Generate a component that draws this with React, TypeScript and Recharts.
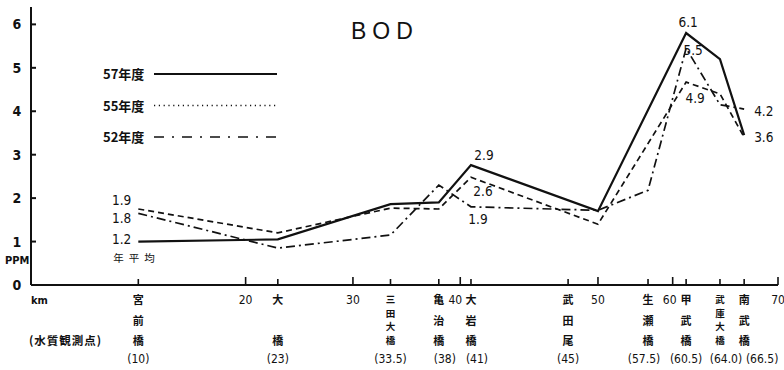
import React from "react";
import { Legend, LabelList, Line, LineChart, XAxis, YAxis } from "recharts";

// measuring points (km from source) and BOD readings, ppm
const KM = [10, 23, 33.5, 38, 41, 50, 57.5, 60.5, 64, 66.5];
const BOD_57 = [1.0, 1.05, 1.86, 1.9, 2.76, 1.7, null, 5.8, 5.2, 3.45];
const BOD_55 = [1.75, 1.2, 1.77, 1.75, 2.48, 1.4, null, 4.67, 4.4, 3.4];
const BOD_52 = [1.65, 0.85, 1.15, 2.3, 1.8, 1.72, 2.18, 5.45, 4.15, 4.05];

// printed annotations next to the lines
const NOTE_57 = ["1.2", null, null, null, "2.9", null, null, "6.1", null, "3.6"];
const NOTE_55 = ["1.9", null, null, null, "2.6", null, null, "4.9", null, null];
const NOTE_52 = ["1.8", null, null, null, "1.9", null, null, "5.5", null, "4.2"];
const AVG_NOTE = "年平均";

const STATION_KM = [10, 23, 33.5, 38, 41, 45, 57.5, 60.5, 64, 66.5];
const STATION_NAMES = ["宮前橋", "大橋", "三田大橋", "亀治橋", "大岩橋", "武田尾", "生瀬橋", "甲武橋", "武庫大橋", "南武橋"];
const STATION_KM_TEXT = ["(10)", "(23)", "(33.5)", "(38)", "(41)", "(45)", "(57.5)", "(60.5)", "(64.0)", "(66.5)"];
const KM_TICKS = [20, 30, 40, 50, 60, 70];
const Y_TICKS = [0, 1, 2, 3, 4, 5, 6];

const SERIES = [
  { key: "y57", note: "n57", name: "57年度", values: BOD_57, notes: NOTE_57 },
  { key: "y55", note: "n55", name: "55年度", values: BOD_55, notes: NOTE_55 },
  { key: "y52", note: "n52", name: "52年度", values: BOD_52, notes: NOTE_52 }
];

const chartData = KM.map((km, i) => {
  const row: Record<string, number | string | null> = { km };
  SERIES.forEach((s) => {
    row[s.key] = s.values[i];
    row[s.note] = s.notes[i];
  });
  return row;
});

const X_TICKS = [...STATION_KM, ...KM_TICKS].sort((a, b) => a - b);

// the original drawing's km ruler is not uniform between 41 and 60.5 km
const RULER_KM = [0, 41, 45, 50, 57.5, 60, 60.5, 70];
const RULER_AT = [0, 0.589, 0.719, 0.759, 0.826, 0.859, 0.877, 1];

function rulerScale(domain: number[] = [0, 70], range: number[] = [0, 1]): any {
  const scale: any = (v: number) => {
    const last = RULER_KM.length - 1;
    const km = Math.max(RULER_KM[0], Math.min(v, RULER_KM[last]));
    let i = 0;
    while (i < last - 1 && km > RULER_KM[i + 1]) i++;
    const t = (km - RULER_KM[i]) / (RULER_KM[i + 1] - RULER_KM[i]);
    const f = RULER_AT[i] + t * (RULER_AT[i + 1] - RULER_AT[i]);
    return range[0] + f * (range[1] - range[0]);
  };
  scale.domain = (d?: number[]) => {
    if (d === undefined) return domain.slice();
    domain = d.slice();
    return scale;
  };
  scale.range = (r?: number[]) => {
    if (r === undefined) return range.slice();
    range = r.slice();
    return scale;
  };
  scale.copy = () => rulerScale(domain.slice(), range.slice());
  scale.ticks = () => X_TICKS.slice();
  scale.invert = (px: number) => {
    const f = (px - range[0]) / (range[1] - range[0]);
    let i = 0;
    while (i < RULER_AT.length - 2 && f > RULER_AT[i + 1]) i++;
    const t = (f - RULER_AT[i]) / (RULER_AT[i + 1] - RULER_AT[i]);
    return RULER_KM[i] + t * (RULER_KM[i + 1] - RULER_KM[i]);
  };
  return scale;
}

const NUM_FONT = "'Liberation Sans Narrow', 'DejaVu Sans Condensed', 'Liberation Sans', sans-serif";
const CJK_FONT = "'Noto Sans CJK JP', 'Noto Sans CJK SC', sans-serif";
const INK = "#111";

const LINE_STYLE: Record<string, { dash?: string; width: number }> = {
  y57: { width: 2.2 },
  y55: { dash: "6 4", width: 1.7 },
  y52: { dash: "9 4 2 4", width: 1.7 }
};

const LEGEND_STYLE: Record<string, { dash?: string; width: number }> = {
  y57: { width: 2 },
  y55: { dash: "1.2 3.6", width: 1.3 },
  y52: { dash: "10 8 2 8", width: 1.6 }
};

// [dx, dy, anchor] from the point
const NOTE_PLACE: Record<string, Record<string, [number, number, string]>> = {
  y57: { "1.2": [-7, 2, "end"], "2.9": [13, -5, "middle"], "6.1": [2, -6, "middle"], "3.6": [10, 7, "start"] },
  y55: { "1.9": [-7, -4, "end"], "2.6": [12, 19, "middle"], "4.9": [9, 21, "middle"] },
  y52: { "1.8": [-7, 10, "end"], "1.9": [7, 17, "middle"], "5.5": [7, 7, "middle"], "4.2": [10, 7, "start"] }
};

// crowded bottom labels are nudged sideways, as in the print
const LABEL_SHIFT: Record<string, number> = { "38": 6, "41": 6, "57.5": -4, "64": 6, "66.5": 18 };
const KM_SHIFT: Record<string, number> = { "40": -5, "60": -3 };

function noteLabel(seriesKey: string) {
  return (props: any) => {
    const value = props.value;
    if (value == null || value === "") return null;
    const vb = props.viewBox || {};
    const x = vb.x ?? props.x;
    const y = vb.y ?? props.y;
    if (x == null || y == null) return null;
    const place = NOTE_PLACE[seriesKey][value] || [0, -8, "middle"];
    return (
      <g>
        <text
          x={x + place[0]}
          y={y + place[1]}
          textAnchor={place[2] as any}
          fill={INK}
          fontSize={13.5}
          fontFamily={NUM_FONT}
        >
          {value}
        </text>
        {seriesKey === "y57" && value === NOTE_57[0] && (
          <text x={x - 25} y={y + 20} fill={INK} fontSize={10.5} fontFamily={CJK_FONT} letterSpacing={5}>
            {AVG_NOTE}
          </text>
        )}
      </g>
    );
  };
}

function XTick(props: any) {
  const { x, y, payload } = props;
  const km = payload.value;
  const s = STATION_KM.indexOf(km);

  if (s < 0) {
    return (
      <g>
        <line x1={x} x2={x} y1={y} y2={y - 8} stroke={INK} strokeWidth={1.6} />
        <text
          x={x + (KM_SHIFT[String(km)] ?? 0)}
          y={y + 19}
          textAnchor="middle"
          fill={INK}
          fontSize={12}
          fontFamily={NUM_FONT}
        >
          {km}
        </text>
      </g>
    );
  }

  const chars = STATION_NAMES[s].split("");
  const long = chars.length >= 4;
  const step = long ? 13.5 : 20.5;
  const rows = chars.length === 2 ? [0, 2] : chars.map((_, i) => i);
  const shift = LABEL_SHIFT[String(km)] ?? 0;

  return (
    <g>
      <line x1={x} x2={x} y1={y} y2={y - 6} stroke={INK} strokeWidth={1.6} />
      {chars.map((c, i) => (
        <text
          key={i}
          x={x}
          y={y + (long ? 18 : 19) + rows[i] * step}
          textAnchor="middle"
          fill={INK}
          fontSize={long ? 9.5 : 11}
          fontWeight={700}
          fontFamily={CJK_FONT}
        >
          {c}
        </text>
      ))}
      <text x={x + shift} y={y + 78} textAnchor="middle" fill={INK} fontSize={12} fontFamily={NUM_FONT}>
        {STATION_KM_TEXT[s]}
      </text>
    </g>
  );
}

function YTick(props: any) {
  const { x, y, payload } = props;
  return (
    <g>
      <line x1={x} x2={x + 5} y1={y} y2={y} stroke={INK} strokeWidth={2} />
      <text x={x - 14} y={y + 5} textAnchor="middle" fill={INK} fontSize={14} fontWeight={700} fontFamily={NUM_FONT}>
        {payload.value}
      </text>
    </g>
  );
}

function XCaption(props: any) {
  const vb = props.viewBox || { x: 31, y: 285 };
  return (
    <g fill={INK}>
      <text x={vb.x} y={vb.y + 19} fontSize={11} fontFamily={NUM_FONT} fontWeight={700}>
        km
      </text>
      <text x={vb.x - 2} y={vb.y + 60} fontSize={11.5} fontFamily={CJK_FONT} fontWeight={700} letterSpacing={1}>
        (水質観測点)
      </text>
    </g>
  );
}

function YCaption(props: any) {
  const vb = props.viewBox || { x: 0, y: 7, height: 278 };
  return (
    <text x={vb.x + 5} y={vb.y + vb.height - 21} fill={INK} fontSize={11} fontWeight={700} fontFamily={NUM_FONT}>
      PPM
    </text>
  );
}

function LegendBox() {
  return (
    <div style={{ position: "relative", height: 0 }}>
      <svg width={190} height={90} style={{ position: "absolute", left: 0, top: 0, overflow: "visible" }}>
        {SERIES.map((s, i) => {
          const cy = 12 + i * 31.5;
          const st = LEGEND_STYLE[s.key];
          return (
            <g key={s.key}>
              <text x={3} y={cy + 5} fill={INK} fontSize={13} fontWeight={700} fontFamily={CJK_FONT}>
                {s.name}
              </text>
              <line x1={54} x2={177} y1={cy} y2={cy} stroke={INK} strokeWidth={st.width} strokeDasharray={st.dash} />
            </g>
          );
        })}
      </svg>
    </div>
  );
}

export default function App() {
  return (
    <div style={{ position: "absolute", left: 0, top: 0, width: 784, height: 370, background: "#fff" }}>
      <div
        style={{
          position: "absolute",
          left: 351,
          top: 18,
          fontSize: 23,
          letterSpacing: 6,
          fontFamily: "'Liberation Sans', sans-serif",
          color: INK,
          lineHeight: "26px",
          zIndex: 2
        }}
      >
        BOD
      </div>
      <LineChart width={784} height={370} data={chartData} margin={{ top: 7, right: 6, bottom: 5, left: 0 }}>
        <XAxis
          type="number"
          dataKey="km"
          domain={[0, 70]}
          scale={rulerScale()}
          ticks={X_TICKS}
          interval={0}
          tick={<XTick />}
          tickLine={false}
          tickSize={0}
          tickMargin={0}
          height={80}
          axisLine={{ stroke: INK, strokeWidth: 2 }}
          label={XCaption}
        />
        <YAxis
          type="number"
          domain={[0, 6.4]}
          ticks={Y_TICKS}
          interval={0}
          width={31}
          tick={<YTick />}
          tickLine={false}
          tickSize={0}
          tickMargin={0}
          axisLine={{ stroke: INK, strokeWidth: 2 }}
          label={YCaption}
        />
        <Legend verticalAlign="top" align="left" content={LegendBox} wrapperStyle={{ left: 100, top: 62, width: 190 }} />
        {SERIES.map((s) => (
          <Line
            key={s.key}
            dataKey={s.key}
            name={s.name}
            type="linear"
            stroke={INK}
            strokeWidth={LINE_STYLE[s.key].width}
            strokeDasharray={LINE_STYLE[s.key].dash}
            dot={false}
            activeDot={false}
            connectNulls
            isAnimationActive={false}
          >
            <LabelList dataKey={s.note} content={noteLabel(s.key)} />
          </Line>
        ))}
      </LineChart>
    </div>
  );
}
